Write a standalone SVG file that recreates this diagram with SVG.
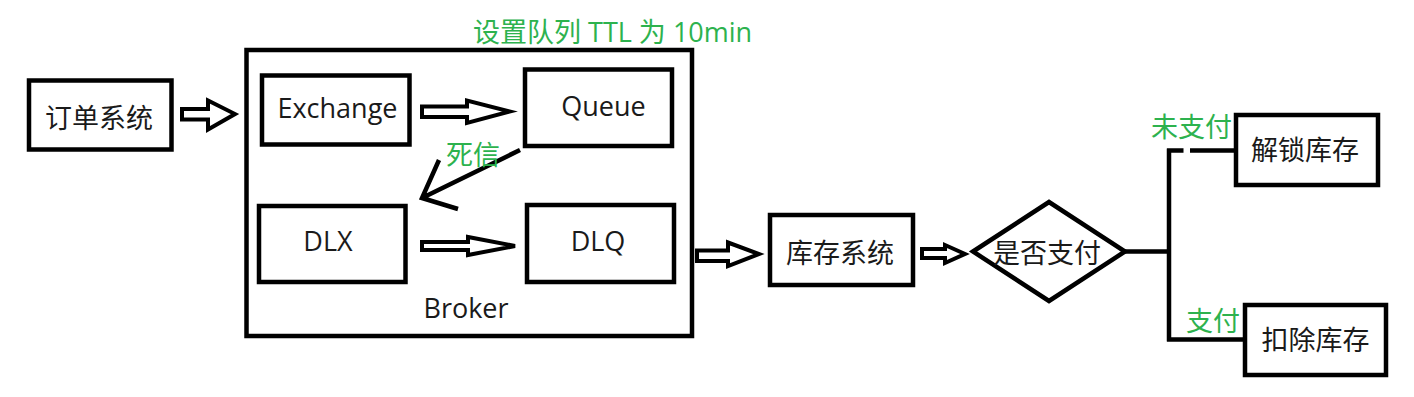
<svg xmlns="http://www.w3.org/2000/svg" width="1414" height="397" viewBox="0 0 1414 397">
<style>
  .box{fill:#fff;stroke:#000;stroke-width:4.5}
  .frame{fill:none;stroke:#000;stroke-width:4.5}
  .blk{fill:#fff;stroke:#000;stroke-width:4;stroke-linejoin:miter}
  .ln{fill:none;stroke:#000;stroke-width:4.5}
  .t{font-family:"Open Sans","Noto Sans CJK SC",sans-serif;font-size:27px;fill:#1a1a1a;text-anchor:middle}
  .c{font-family:"Noto Sans CJK SC",sans-serif;font-size:27px;fill:#1a1a1a;text-anchor:middle}
  .g{font-family:"Open Sans","Noto Sans CJK SC",sans-serif;font-size:27px;fill:#2db24e}
</style>
<rect width="1414" height="397" fill="#fff"/>
<g id="broker">
  <rect class="frame" x="246.5" y="50" width="445.5" height="286"/>
  <text class="t" x="466" y="318">Broker</text>
</g>
<text class="g" x="473" y="42">设置队列 TTL 为 10min</text>
<g id="order-system">
  <rect class="box" x="29" y="80.5" width="142.5" height="69"/>
  <text class="c" x="99" y="127.5">订单系统</text>
</g>
<g id="exchange">
  <rect class="box" x="262" y="75.5" width="147.5" height="69"/>
  <text class="t" x="337.5" y="118">Exchange</text>
</g>
<g id="queue">
  <rect class="box" x="525" y="69.5" width="147" height="76.5"/>
  <text class="t" x="603.5" y="116">Queue</text>
</g>
<g id="dlx">
  <rect class="box" x="259" y="206" width="146.5" height="76"/>
  <text class="t" x="328" y="250.5">DLX</text>
</g>
<g id="dlq">
  <rect class="box" x="527" y="205" width="147" height="77"/>
  <text class="t" x="598" y="250.5">DLQ</text>
</g>
<g id="inventory-system">
  <rect class="box" x="770" y="215" width="143" height="70"/>
  <text class="c" x="840" y="263">库存系统</text>
</g>
<g id="paid-decision">
  <polygon class="box" points="973,251.5 1049,202 1125,251.5 1049,301"/>
  <text class="c" x="1047" y="263">是否支付</text>
</g>
<g id="unlock-inventory">
  <rect class="box" x="1236" y="115" width="142" height="70"/>
  <text class="c" x="1305" y="160">解锁库存</text>
</g>
<g id="deduct-inventory">
  <rect class="box" x="1245" y="305" width="141" height="70"/>
  <text class="c" x="1315.5" y="350">扣除库存</text>
</g>
<g id="connectors">
  <polygon class="blk" points="182,109 208,109 208,100.5 235,114 208,129.5 208,119.5 182,119.5"/>
  <polygon class="blk" points="422,106.5 467,106.5 467,100.5 510,111.5 467,123 467,117 422,117"/>
  <polygon class="blk" points="422,242 468,242 468,237 515,246 468,255 468,250 422,250"/>
  <polygon class="blk" points="697,250.5 728,250.5 728,242.5 759,254 728,266 728,261 697,261"/>
  <polygon class="blk" points="922,249 945,249 945,245 965,254 945,263 945,258 922,258"/>
  <path class="ln" d="M520,150 L422,198 M439,160 L422,198 L458,209"/>
  <text class="g" x="446" y="165">死信</text>
  <path class="ln" d="M1125,251.5 H1169 M1169,148.5 V341.5 M1167,150.5 H1183.5 M1190,150.5 H1236 M1167,339.5 H1245"/>
  <text class="g" x="1151" y="137">未支付</text>
  <text class="g" x="1186" y="331">支付</text>
</g>
</svg>
